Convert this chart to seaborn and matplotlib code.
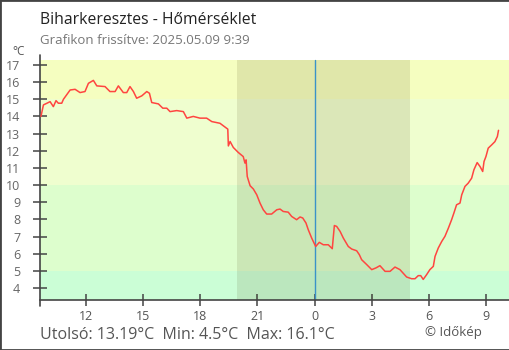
import matplotlib
matplotlib.use("Agg")
import matplotlib.pyplot as plt
import pandas as pd
import seaborn as sns
from matplotlib.patches import Rectangle
from matplotlib.lines import Line2D

# Hours counted from midnight of the first day (24 = next midnight)
hours = [9.65, 9.78, 10.13, 10.30, 10.44, 10.56, 10.74, 10.83, 11.18, 11.44,
         11.70, 11.96, 12.14, 12.40, 12.58, 13.01, 13.27, 13.54, 13.71, 13.97,
         14.15, 14.32, 14.50, 14.67, 14.94, 15.20, 15.34, 15.46, 15.81, 16.04,
         16.25, 16.42, 16.77, 17.12, 17.30, 17.64, 17.99, 18.34, 18.61, 19.04,
         19.22, 19.45, 19.48, 19.57, 19.74, 20.00, 20.26, 20.35, 20.41, 20.47,
         20.62, 20.79, 20.97, 21.14, 21.31, 21.49, 21.75, 22.02, 22.19, 22.36,
         22.62, 22.80, 23.06, 23.24, 23.38, 23.55, 23.67, 23.85, 24.06, 24.25,
         24.46, 24.72, 24.93, 25.04, 25.16, 25.34, 25.51, 25.77, 25.95, 26.21,
         26.35, 26.47, 26.74, 27.00, 27.22, 27.43, 27.70, 27.96, 28.22, 28.48,
         28.83, 29.09, 29.27, 29.44, 29.57, 29.70, 29.88, 30.05, 30.23, 30.32,
         30.49, 30.67, 30.84, 31.02, 31.19, 31.31, 31.45, 31.63, 31.72, 31.89,
         32.06, 32.24, 32.36, 32.53, 32.68, 32.82, 32.89, 32.99, 33.11, 33.29,
         33.46, 33.59, 33.65]
temps = [14.0, 14.67, 14.86, 14.57, 14.92, 14.77, 14.77, 15.0, 15.54, 15.58,
         15.39, 15.45, 15.93, 16.1, 15.78, 15.74, 15.45, 15.45, 15.78, 15.39,
         15.39, 15.74, 15.45, 15.06, 15.2, 15.45, 15.35, 14.81, 14.73, 14.48,
         14.48, 14.28, 14.34, 14.28, 13.9, 14.0, 13.9, 13.9, 13.7, 13.6,
         13.45, 13.26, 12.28, 12.54, 12.19, 11.9, 11.66, 11.28, 11.47, 10.5,
         9.96, 9.77, 9.43, 8.95, 8.56, 8.31, 8.31, 8.56, 8.6, 8.46,
         8.42, 8.17, 7.98, 8.14, 8.08, 7.79, 7.4, 6.91, 6.42, 6.66,
         6.52, 6.52, 6.29, 7.64, 7.59, 7.3, 6.91, 6.42, 6.27, 6.17,
         5.94, 5.65, 5.36, 5.07, 5.17, 5.3, 4.97, 4.97, 5.22, 5.07,
         4.64, 4.54, 4.54, 4.72, 4.72, 4.5, 4.78, 5.07, 5.26, 5.84,
         6.33, 6.71, 7.01, 7.49, 7.98, 8.37, 8.85, 8.95, 9.43, 9.92,
         10.11, 10.4, 10.89, 11.31, 11.08, 10.79, 11.37, 11.66, 12.15, 12.34,
         12.53, 12.83, 13.19]

tick_hours = [12, 15, 18, 21, 24, 27, 30, 33]
tick_labels = ["12", "15", "18", "21", "0", "3", "6", "9"]
y_ticks = list(range(4, 18))

band_edges = [3.3, 5, 10, 15, 17.3]
band_colors = ["#cbfed6", "#ddfecd", "#effecf", "#f5fec0"]

sunset, sunrise, midnight = 19.95, 29.0, 24.0

title = "Biharkeresztes - Hőmérséklet"
subtitle = "Grafikon frissítve: 2025.05.09 9:39"
footer = "Utolsó: 13.19°C  Min: 4.5°C  Max: 16.1°C"
credit = "© Időkép"

sns.set_style("white")
plt.rcParams["font.family"] = ["Open Sans", "DejaVu Sans"]

df = pd.DataFrame({"hour": hours, "temp": temps})

fig = plt.figure(figsize=(5.1, 3.5), dpi=100)
ax = fig.add_axes([40 / 510, 50 / 350, 469 / 510, 245 / 350])
ax.set_xlim(9.6, 34.2)
ax.set_ylim(3.3, 17.58)

# temperature bands
for lo, hi, c in zip(band_edges[:-1], band_edges[1:], band_colors):
    ax.axhspan(lo, hi, color=c, lw=0, zorder=0)
# night shading
ax.fill_between([sunset, sunrise], band_edges[0], band_edges[-1],
                color="#3a3000", alpha=0.11, lw=0, zorder=1)
# midnight marker
ax.plot([midnight, midnight], [band_edges[0], band_edges[-1]],
        color="#3a93c8", lw=1.0, zorder=2)

sns.lineplot(data=df, x="hour", y="temp", ax=ax, color="#ff4540",
             lw=1.1, zorder=3)

ax.set_xlabel("")
ax.set_ylabel("")
ax.set_xticks(tick_hours)
ax.set_xticklabels(tick_labels)
ax.set_yticks(y_ticks)
ax.set_yticklabels([str(v) for v in y_ticks])
ax.tick_params(axis="x", direction="inout", length=9, width=1.1,
               color="#444444", labelcolor="#555555", labelsize=9, pad=2.5)
ax.tick_params(axis="y", direction="inout", length=9.6, width=1.1,
               color="#444444", labelcolor="#666666", labelsize=9, pad=9.5)
ax.xaxis.set_ticks_position("bottom")
ax.yaxis.set_ticks_position("left")

for s in ["top", "right", "left"]:
    ax.spines[s].set_visible(False)
ax.spines["bottom"].set_color("#444444")
ax.spines["bottom"].set_linewidth(1.2)
ax.add_line(Line2D([0, 0], [-0.025, 1.0], transform=ax.transAxes,
                   color="#444444", lw=1.2, clip_on=False))
ax.patch.set_alpha(0)

fig.text(40 / 510, 1 - 24 / 350, title, fontsize=11.3, color="#222222",
         va="baseline", ha="left")
fig.text(40 / 510, 1 - 44.5 / 350, subtitle, fontsize=9.5, color="#777777",
         va="baseline", ha="left")
fig.text(12 / 510, 1 - 55 / 350, "°C", fontsize=8.5, color="#555555",
         va="baseline", ha="left")
fig.text(40 / 510, 1 - 339 / 350, footer, fontsize=11.5, color="#555555",
         va="baseline", ha="left")
fig.text(425 / 510, 1 - 336 / 350, credit, fontsize=9.5, color="#555555",
         va="baseline", ha="left")

fig.add_artist(Rectangle((0, 0), 1, 1, transform=fig.transFigure,
                         fill=False, ec="#444444", lw=2.0))

fig.savefig("out.png", dpi=100, facecolor="white")
